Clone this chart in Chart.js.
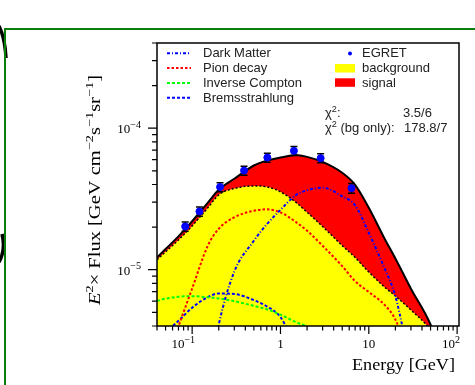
<!DOCTYPE html>
<html>
<head>
<meta charset="utf-8">
<script src="https://cdn.jsdelivr.net/npm/chart.js@4.4.1/dist/chart.umd.min.js"></script>
<style>
  html, body { margin: 0; padding: 0; background: #fff; }
  canvas { display: block; }
</style>
</head>
<body>
<canvas id="chart" width="475" height="385"></canvas>
<script>
const energy = [0.04, 0.05, 0.07, 0.1, 0.15, 0.2, 0.3, 0.5, 0.7, 1, 1.5, 2, 3, 5, 7, 10, 15, 20, 30, 50, 70]

// model curves, E^2 x flux [GeV cm^-2 s^-1 sr^-1]
const total = [1.22e-5, 1.40e-5, 1.72e-5, 2.20e-5, 2.97e-5, 3.67e-5, 4.39e-5, 5.45e-5, 5.90e-5, 6.20e-5, 6.47e-5, 6.27e-5, 5.78e-5, 4.84e-5, 3.98e-5, 2.74e-5, 1.67e-5, 1.20e-5, 7.34e-6, 4.10e-6, 2.3e-6]
const background = [1.176e-5, 1.337e-5, 1.623e-5, 2.04e-5, 2.73e-5, 3.38e-5, 3.75e-5, 3.91e-5, 3.85e-5, 3.55e-5, 2.99e-5, 2.55e-5, 2.02e-5, 1.48e-5, 1.22e-5, 9.63e-6, 7.56e-6, 6.52e-6, 5.19e-6, 3.75e-6, 2.6e-6]
const darkMatter = [null, null, null, null, 1.5e-6, 4.09e-6, 9.68e-6, 1.602e-5, 2.094e-5, 2.65e-5, 3.37e-5, 3.64e-5, 3.80e-5, 3.30e-5, 2.85e-5, 1.82e-5, 1.03e-5, 6.5e-6, 2.0e-6, null, null]
const pionDecay = [null, 2.2e-6, 3.98e-6, 7.36e-6, 1.472e-5, 1.947e-5, 2.346e-5, 2.61e-5, 2.67e-5, 2.54e-5, 2.17e-5, 1.885e-5, 1.477e-5, 1.06e-5, 8.3e-6, 6.95e-6, 5.66e-6, 4.44e-6, 2.2e-6, null, null]
const inverseCompton = [6.02e-6, 6.24e-6, 6.44e-6, 6.49e-6, 6.39e-6, 6.26e-6, 5.99e-6, 5.55e-6, 5.25e-6, 4.81e-6, 4.26e-6, 3.96e-6, 3.3e-6, null, null, null, null, null, null, null, null]
const bremsstrahlung = [null, 3.6e-6, 4.35e-6, 5.39e-6, 6.39e-6, 6.79e-6, 6.74e-6, 6.09e-6, 5.50e-6, 4.62e-6, 2.8e-6, null, null, null, null, null, null, null, null, null, null]

// EGRET data points
const egretE = [0.0834, 0.121, 0.207, 0.387, 0.71, 1.42, 2.85, 6.37]
const egretFlux = [2.02e-5, 2.58e-5, 3.84e-5, 5.02e-5, 6.2e-5, 6.92e-5, 6.14e-5, 3.77e-5]
const egretErr = [0.15e-5, 0.19e-5, 0.28e-5, 0.37e-5, 0.46e-5, 0.5e-5, 0.45e-5, 0.3e-5]

// axes: [mantissa, exponent]
const xMajorTicks = [0.1, 1, 10, 100]
const xTickLabels = [['10', '\u22121'], ['1', ''], ['10', ''], ['10', '2']]
const yMajorTicks = [1e-5, 1e-4]
const yTickLabels = [['10', '\u22125'], ['10', '\u22124']]

const SERIF = '"Liberation Serif", "DejaVu Serif", serif'
const SANS = '"Liberation Sans", Arial, sans-serif'

const toPoints = (ys) => energy.map((e, i) => ({ x: e, y: ys[i] })).filter(p => p.y !== null)

const curve = (label, ys, color, dash, extra = {}) => ({
  type: 'line',
  label,
  data: toPoints(ys),
  borderColor: color,
  borderWidth: 2,
  borderDash: dash,
  pointRadius: 0,
  cubicInterpolationMode: 'monotone',
  fill: false,
  clip: 0,
  ...extra,
})

// text with italic / superscript pieces
function drawRich(ctx, parts, x, y, size, family, align, targetWidth, supScale = 0.7) {
  const fontFor = (k) => (k === 'i' ? 'italic ' : '') + (k === 's' ? size * supScale : size) + 'px ' + family
  let w = 0
  parts.forEach(([t, k]) => { ctx.font = fontFor(k); w += ctx.measureText(t).width })
  const sx = targetWidth ? targetWidth / w : 1
  ctx.save()
  ctx.translate(x, y)
  ctx.scale(sx, 1)
  let cx = align === 'right' ? -w : align === 'center' ? -w / 2 : 0
  ctx.textAlign = 'left'
  ctx.textBaseline = 'alphabetic'
  parts.forEach(([t, k]) => {
    ctx.font = fontFor(k)
    ctx.fillText(t, cx, k === 's' ? -size * 0.42 : 0)
    cx += ctx.measureText(t).width
  })
  ctx.restore()
}

// page decoration: green frame and bits of the neighbouring figure
const decor = {
  id: 'decor',
  beforeDraw(chart) {
    const ctx = chart.ctx
    ctx.save()
    ctx.fillStyle = '#fff'
    ctx.fillRect(0, 0, chart.width, chart.height)
    ctx.strokeStyle = '#000'
    ctx.lineWidth = 3.5
    ctx.beginPath()
    ctx.moveTo(-1, 26)
    ctx.quadraticCurveTo(5, 38, 6, 58)
    ctx.stroke()
    ctx.beginPath()
    ctx.moveTo(-1, 262)
    ctx.quadraticCurveTo(6, 250, 2, 234)
    ctx.stroke()
    ctx.strokeStyle = '#0a7d0a'
    ctx.lineWidth = 2
    ctx.beginPath()
    ctx.moveTo(5, 385)
    ctx.lineTo(5, 29)
    ctx.lineTo(475, 29)
    ctx.stroke()
    ctx.restore()
  }
}

const errorBars = {
  id: 'errorBars',
  beforeDatasetDraw(chart, args) {
    if (args.index !== 0) return
    const { ctx, scales: { x, y } } = chart
    ctx.save()
    ctx.strokeStyle = '#000'
    ctx.lineWidth = 1.5
    egretE.forEach((e, i) => {
      const px = x.getPixelForValue(e)
      const top = y.getPixelForValue(egretFlux[i] + egretErr[i])
      const bot = y.getPixelForValue(egretFlux[i] - egretErr[i])
      ctx.beginPath()
      ctx.moveTo(px, top); ctx.lineTo(px, bot)
      ctx.moveTo(px - 3.5, top); ctx.lineTo(px + 3.5, top)
      ctx.moveTo(px - 3.5, bot); ctx.lineTo(px + 3.5, bot)
      ctx.stroke()
    })
    ctx.restore()
  }
}

const legendLines = [
  ['Dark Matter', '#0000ff', [3, 2, 1, 2]],
  ['Pion decay', '#ff0000', [2.5, 2]],
  ['Inverse Compton', '#00ff00', [3, 2]],
  ['Bremsstrahlung', '#0000ff', [3, 2]],
]

// frame, ticks, legend and labels
const frame = {
  id: 'frame',
  afterDraw(chart) {
    const { ctx, chartArea: a, scales: { x, y } } = chart
    ctx.save()
    ctx.strokeStyle = '#000'
    ctx.lineWidth = 1.5
    ctx.strokeRect(a.left, a.top, a.right - a.left, a.bottom - a.top)

    ctx.lineWidth = 1.2
    ctx.beginPath()
    yMajorTicks.concat([1e-6]).forEach((d) => {
      for (let m = 1; m <= 9; m++) {
        const v = m * d
        if (v < y.min || v > y.max) continue
        const py = y.getPixelForValue(v)
        ctx.moveTo(a.left, py); ctx.lineTo(a.left - (m === 1 ? 9 : 5), py)
      }
    })
    xMajorTicks.concat([0.01]).forEach((d) => {
      for (let m = 1; m <= 9; m++) {
        const v = m * d
        if (v < x.min || v > x.max) continue
        const px = x.getPixelForValue(v)
        ctx.moveTo(px, a.bottom); ctx.lineTo(px, a.bottom + (m === 1 ? 8 : 4.5))
      }
    })
    ctx.stroke()

    // tick labels
    ctx.fillStyle = '#000'
    xMajorTicks.forEach((v, i) => {
      const [base, exp] = xTickLabels[i]
      const px = x.getPixelForValue(v)
      if (exp) {
        drawRich(ctx, [[base, 'n'], [exp, 's']], px + 3, 348, 13, SERIF, 'right', 0, 0.78)
      } else {
        drawRich(ctx, [[base, 'n']], px, 348, 13, SERIF, 'center')
      }
    })
    yMajorTicks.forEach((v, i) => {
      const [base, exp] = yTickLabels[i]
      drawRich(ctx, [[base, 'n'], [exp, 's']], 141, y.getPixelForValue(v) + 5, 13, SERIF, 'right', 0, 0.78)
    })

    // legend
    ctx.fillStyle = '#222'
    ctx.font = '13px ' + SANS
    ctx.textBaseline = 'alphabetic'
    ctx.textAlign = 'left'
    legendLines.forEach(([label, color, dash], i) => {
      const by = 57.3 + i * 14.8
      ctx.strokeStyle = color
      ctx.lineWidth = 2
      ctx.setLineDash(dash)
      ctx.beginPath()
      ctx.moveTo(167, by - 4); ctx.lineTo(191, by - 4)
      ctx.stroke()
      ctx.fillText(label, 203, by)
    })
    ctx.setLineDash([])
    ctx.fillStyle = '#0000ff'
    ctx.beginPath(); ctx.arc(350, 53.5, 2, 0, Math.PI * 2); ctx.fill()
    ctx.fillStyle = '#ffff00'; ctx.fillRect(335, 64, 20, 8.5)
    ctx.fillStyle = '#ff0000'; ctx.fillRect(335, 78.3, 20, 8.5)
    ctx.fillStyle = '#222'
    ctx.fillText('EGRET', 362, 57.3)
    ctx.fillText('background', 362, 72.1)
    ctx.fillText('signal', 362, 86.9)

    drawRich(ctx, [['\u03C7', 'n'], ['2', 's'], [':', 'n']], 325, 117, 13, SANS, 'left')
    drawRich(ctx, [['\u03C7', 'n'], ['2', 's'], [' (bg only):', 'n']], 325, 132, 13, SANS, 'left')
    ctx.font = '13px ' + SANS
    ctx.fillText('3.5/6', 403, 117)
    ctx.fillText('178.8/7', 404, 132)

    // axis titles
    ctx.fillStyle = '#000'
    drawRich(ctx, [['Energy [GeV]', 'n']], 455, 370, 16, SERIF, 'right', 103)
    ctx.save()
    ctx.translate(100, 190)
    ctx.rotate(-Math.PI / 2)
    drawRich(ctx, [
      ['E', 'i'], ['2', 's'], ['\u00D7 Flux [GeV cm', 'n'], ['\u22122', 's'],
      ['s', 'n'], ['\u22121', 's'], ['sr', 'n'], ['\u22121', 's'], [']', 'n'],
    ], 0, 0, 16, SERIF, 'center', 230)
    ctx.restore()
    ctx.restore()
  }
}

new Chart(document.getElementById('chart'), {
  data: {
    datasets: [
      {
        type: 'scatter',
        label: 'EGRET',
        data: egretE.map((e, i) => ({ x: e, y: egretFlux[i] })),
        backgroundColor: '#0000ff',
        borderColor: '#0000ff',
        pointRadius: 3.5,
        order: 0,
      },
      curve('Dark Matter', darkMatter, '#0000ff', [3, 2, 1, 2], { order: 2 }),
      curve('Pion decay', pionDecay, '#ff0000', [2.5, 2], { order: 3 }),
      curve('Inverse Compton', inverseCompton, '#00ff00', [3, 2], { order: 4 }),
      curve('Bremsstrahlung', bremsstrahlung, '#0000ff', [3, 2], { order: 5 }),
      curve('signal', total, '#000000', [], { fill: 6, backgroundColor: '#ff0000', order: 8 }),
      curve('background', background, '#000000', [2, 2], { fill: 'start', backgroundColor: '#ffff00', borderWidth: 1.5, order: 9 }),
    ]
  },
  options: {
    responsive: false,
    animation: false,
    devicePixelRatio: 1,
    layout: { padding: { top: 43, right: 16, left: 0, bottom: 0 } },
    plugins: {
      legend: { display: false },
      tooltip: { enabled: false },
      filler: { drawTime: 'beforeDatasetsDraw' },
    },
    scales: {
      x: {
        type: 'logarithmic',
        min: 0.04,
        max: 105,
        grid: { display: false, drawTicks: false },
        border: { display: false },
        afterFit: (s) => { s.height = 59 },
        ticks: { display: false },
      },
      y: {
        type: 'logarithmic',
        min: 4e-6,
        max: 4e-4,
        grid: { display: false, drawTicks: false },
        border: { display: false },
        afterFit: (s) => { s.width = 157 },
        ticks: { display: false },
      },
    },
  },
  plugins: [decor, errorBars, frame],
})
</script>
</body>
</html>
